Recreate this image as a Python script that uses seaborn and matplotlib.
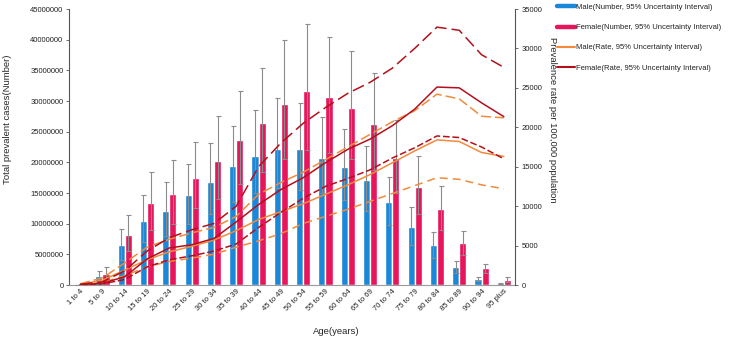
import matplotlib
matplotlib.use('Agg')
import matplotlib.pyplot as plt
from matplotlib.lines import Line2D
import numpy as np
import pandas as pd
import seaborn as sns

sns.set_style('white')
plt.rcParams['font.family'] = ['Liberation Sans', 'DejaVu Sans']
plt.rcParams['text.color'] = '#222222'

ages = ['1 to 4', '5 to 9', '10 to 14', '15 to 19', '20 to 24', '25 to 29',
        '30 to 34', '35 to 39', '40 to 44', '45 to 49', '50 to 54', '55 to 59',
        '60 to 64', '65 to 69', '70 to 74', '75 to 79', '80 to 84', '85 to 89',
        '90 to 94', '95 plus']

# Prevalent cases (millions) with 95% UI
male_num = [0.03, 1.47, 6.5, 10.5, 12.0, 14.6, 16.8, 19.4, 21.1, 22.2, 22.1, 20.7,
            19.2, 17.1, 13.5, 9.5, 6.5, 2.9, 0.9, 0.25]
male_lo = [0.02, 0.8, 4.1, 7.0, 8.0, 10.0, 11.5, 13.5, 15.0, 15.8, 15.5, 15.0,
           13.8, 12.0, 9.8, 6.6, 4.4, 2.0, 0.6, 0.17]
male_hi = [0.05, 2.3, 9.2, 14.7, 16.8, 19.7, 23.1, 26.0, 28.6, 30.5, 29.6, 27.4,
           25.5, 22.7, 17.6, 12.7, 8.7, 3.9, 1.3, 0.35]
female_num = [0.03, 1.8, 8.2, 13.3, 14.8, 17.5, 20.2, 23.6, 26.4, 29.5, 31.6, 30.7,
              28.8, 26.3, 20.7, 15.9, 12.4, 6.8, 2.7, 0.8]
female_lo = [0.02, 1.0, 5.5, 9.0, 10.0, 12.5, 14.0, 16.5, 18.5, 20.5, 22.0, 21.5,
             20.5, 18.8, 15.0, 11.5, 8.9, 4.9, 2.0, 0.5]
female_hi = [0.05, 2.9, 11.4, 18.4, 20.3, 23.3, 27.5, 31.7, 35.4, 40.0, 42.5, 40.4,
             38.1, 34.6, 26.9, 21.0, 16.1, 8.8, 3.4, 1.26]

# Prevalence rate per 100,000 with 95% UI
male_rate = [80, 600, 1900, 3200, 4200, 4900, 5700, 6900, 8300, 9300, 10300, 11500,
             12700, 14000, 15500, 17000, 18400, 18200, 16800, 16300]
male_rate_lo = [40, 300, 1200, 2300, 3000, 3400, 3900, 4800, 5600, 6500, 7800, 8700,
                9600, 10600, 11600, 12600, 13600, 13400, 12700, 12200]
male_rate_hi = [150, 900, 2800, 4800, 5800, 6600, 7300, 8700, 11500, 13000, 14300, 15900,
                17500, 19100, 20700, 22100, 24200, 23600, 21400, 21200]
female_rate = [50, 210, 1050, 3300, 4700, 5100, 5900, 8000, 10200, 12100, 13600, 15500,
               17200, 18500, 20200, 22300, 25100, 25000, 23100, 21350]
female_rate_lo = [30, 150, 700, 2300, 3200, 3700, 4300, 5200, 7300, 9200, 11000, 12500,
                  13500, 14600, 16100, 17400, 18900, 18700, 17500, 16000]
female_rate_hi = [100, 400, 1800, 4300, 6000, 7000, 7800, 10000, 15000, 18000, 20500, 22500,
                  24300, 25700, 27500, 30000, 32700, 32300, 29200, 27600]

blue = '#1b87d8'
pink = '#e8145c'
orange = '#f28a3c'
darkred = '#b3101c'
grey = '#8c8c8c'

bars = pd.DataFrame({
    'Age': ages * 2,
    'Sex': ['Male'] * len(ages) + ['Female'] * len(ages),
    'Cases': np.array(male_num + female_num) * 1e6,
})

fig = plt.figure(figsize=(7.34, 3.38), dpi=100)
ax = fig.add_axes([69 / 734, 53 / 338, 446 / 734, 276 / 338])

sns.barplot(data=bars, x='Age', y='Cases', hue='Sex', order=ages,
            hue_order=['Male', 'Female'], palette=[blue, pink], width=0.64,
            saturation=1, errorbar=None, legend=False, ax=ax)

# error bars on top of each bar
for cont, val, lo, hi in [(ax.containers[0], male_num, male_lo, male_hi),
                          (ax.containers[1], female_num, female_lo, female_hi)]:
    xs = [b.get_x() + b.get_width() / 2 for b in cont]
    v = np.array(val) * 1e6
    err = [v - np.array(lo) * 1e6, np.array(hi) * 1e6 - v]
    ax.errorbar(xs, v, yerr=err, fmt='none', ecolor=grey, elinewidth=0.8,
                capsize=1.8, capthick=0.8, zorder=3)

ax.set_xlim(-0.5, len(ages) - 0.5)
ax.set_ylim(0, 45e6)
ax.set_yticks(np.arange(0, 45e6 + 1, 5e6))
ax.ticklabel_format(style='plain', axis='y')
ax.tick_params(axis='y', labelsize=5.5, length=2, width=0.6, pad=2,
               colors='#555555', labelcolor='#222222')
ax.tick_params(axis='x', labelsize=5.5, length=0, pad=2, labelcolor='#222222')
plt.setp(ax.get_xticklabels(), rotation=45, ha='right', rotation_mode='anchor')
ax.set_xlabel('Age(years)', fontsize=6.8)
ax.set_ylabel('Total prevalent cases(Number)', fontsize=6.8)
ax.xaxis.set_label_coords(0.599, -0.152)
ax.yaxis.set_label_coords(-0.128, 0.6)
for s in ['top', 'right']:
    ax.spines[s].set_visible(False)
ax.spines['left'].set_color('#555555')
ax.spines['left'].set_linewidth(0.8)
ax.spines['bottom'].set_color('#9a9a9a')
ax.spines['bottom'].set_linewidth(0.8)

# rate lines on the right axis
ax2 = ax.twinx()
idx = np.arange(len(ages))
line_specs = [
    (male_rate_lo, orange, (0, (5.2, 3.3))),
    (male_rate_hi, orange, (0, (6.5, 2.6))),
    (male_rate, orange, '-'),
    (female_rate_lo, darkred, (0, (4.4, 1.8))),
    (female_rate_hi, darkred, (0, (8, 3.3))),
    (female_rate, darkred, '-'),
]
for ys, col, ls in line_specs:
    sns.lineplot(x=idx, y=ys, ax=ax2, color=col, linewidth=1.1, linestyle=ls)

ax2.set_xlim(-0.5, len(ages) - 0.5)
ax2.set_ylim(0, 35000)
ax2.set_yticks(np.arange(0, 35001, 5000))
ax2.tick_params(axis='y', labelsize=5.5, length=2, width=0.6, pad=3,
                colors='#555555', labelcolor='#222222')
ax2.set_ylabel('Prevalence rate per 100,000 population', fontsize=6.8,
               rotation=270, va='center')
ax2.yaxis.set_label_coords(1.083, 0.6)
for s in ['top', 'left', 'bottom']:
    ax2.spines[s].set_visible(False)
ax2.spines['right'].set_color('#555555')
ax2.spines['right'].set_linewidth(0.8)

handles = [
    Line2D([], [], color=blue, lw=3.2),
    Line2D([], [], color=pink, lw=3.2),
    Line2D([], [], color=orange, lw=1.5),
    Line2D([], [], color=darkred, lw=1.5),
]
labels = ['Male(Number, 95% Uncertainty Interval)',
          'Female(Number, 95% Uncertainty Interval)',
          'Male(Rate, 95% Uncertainty Interval)',
          'Female(Rate, 95% Uncertainty Interval)']
fig.legend(handles, labels, loc='upper left', bbox_to_anchor=(0.755, 0.998),
           frameon=False, fontsize=5.5, handlelength=2.3, handletextpad=0.1,
           labelspacing=1.68, borderaxespad=0)

fig.savefig('out.png', dpi=100)
